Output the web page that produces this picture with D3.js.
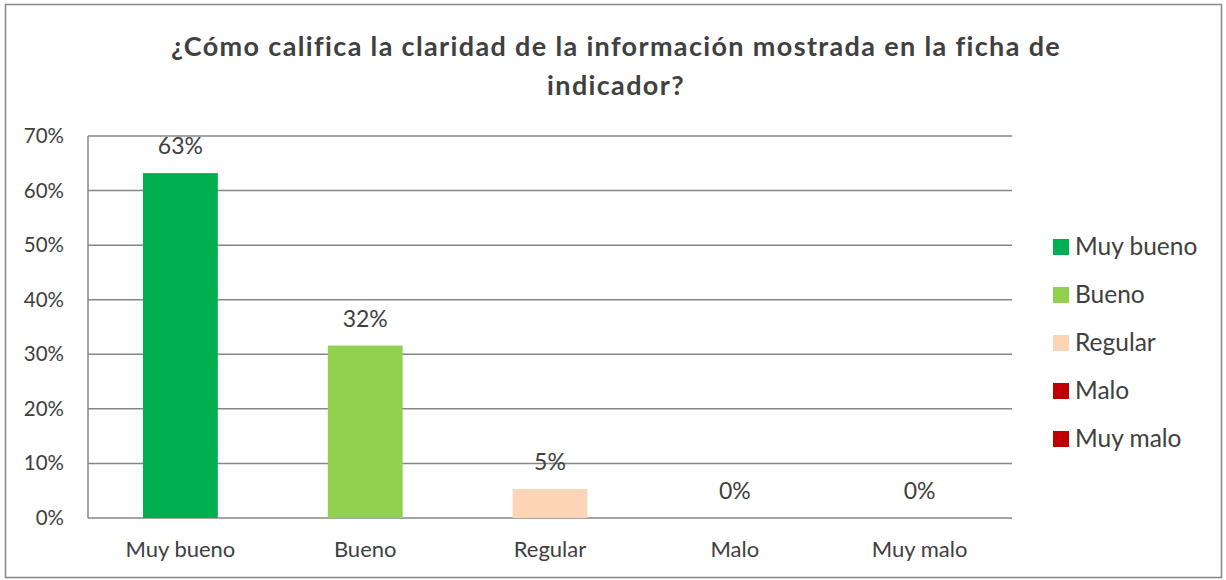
<!DOCTYPE html>
<html>
<head>
<meta charset="utf-8">
<script src="https://cdn.jsdelivr.net/npm/d3@7"></script>
<style>
  body { margin: 0; background: #fff; }
  text { font-family: Lato, "Open Sans", sans-serif; fill: #404040; }
</style>
</head>
<body>
<svg id="chart" width="1226" height="580"></svg>
<script>
const categories = ['Muy bueno', 'Bueno', 'Regular', 'Malo', 'Muy malo']
const values = [0.632, 0.316, 0.053, 0, 0]
const labels = ['63%', '32%', '5%', '0%', '0%']
const colors = ['#00b050', '#92d050', '#fbd5b5', '#c00000', '#c00000']
const yTicks = [0, 0.1, 0.2, 0.3, 0.4, 0.5, 0.6, 0.7]
const title = ['¿Cómo califica la claridad de la información mostrada en la ficha de', 'indicador?']

const svg = d3.select('#chart')
const margin = { left: 88, top: 136, right: 1012, bottom: 518 }

// frame
svg.append('rect')
  .attr('x', 5.5).attr('y', 4.5)
  .attr('width', 1216).attr('height', 573)
  .attr('fill', 'none').attr('stroke', '#868686').attr('stroke-width', 1.5)

svg.selectAll('.title')
  .data(title)
  .enter()
  .append('text')
  .attr('x', 616)
  .attr('y', (d, i) => 56 + i * 39)
  .attr('text-anchor', 'middle')
  .attr('font-size', 27)
  .attr('letter-spacing', 1.35)
  .attr('font-weight', 'bold')
  .text(d => d)

const x = d3.scaleBand()
  .domain(categories)
  .range([margin.left, margin.right])
  .paddingInner(0.595)
  .paddingOuter(0.2975)

const y = d3.scaleLinear()
  .domain([0, 0.7])
  .range([margin.bottom, margin.top])

// gridlines
svg.append('g').selectAll('line')
  .data(yTicks)
  .enter()
  .append('line')
  .attr('x1', margin.left).attr('x2', margin.right)
  .attr('y1', d => y(d)).attr('y2', d => y(d))
  .attr('stroke', '#868686').attr('stroke-width', 1.5)

svg.append('line')
  .attr('x1', margin.left).attr('x2', margin.left)
  .attr('y1', margin.top).attr('y2', margin.bottom)
  .attr('stroke', '#868686').attr('stroke-width', 1.5)

// y tick labels
svg.append('g').selectAll('text')
  .data(yTicks)
  .enter()
  .append('text')
  .attr('x', 64)
  .attr('y', d => y(d) + 7)
  .attr('text-anchor', 'end')
  .attr('font-size', 20.5)
  .text(d => d3.format('.0%')(d))

// bars
svg.append('g').selectAll('rect')
  .data(values)
  .enter()
  .append('rect')
  .attr('x', (d, i) => x(categories[i]))
  .attr('y', d => y(d))
  .attr('width', x.bandwidth())
  .attr('height', d => y(0) - y(d))
  .attr('fill', (d, i) => colors[i])

// data labels
svg.append('g').selectAll('text')
  .data(values)
  .enter()
  .append('text')
  .attr('x', (d, i) => x(categories[i]) + x.bandwidth() / 2)
  .attr('y', d => y(d) - 19)
  .attr('text-anchor', 'middle')
  .attr('font-size', 23)
  .text((d, i) => labels[i])

// category labels
svg.append('g').selectAll('text')
  .data(categories)
  .enter()
  .append('text')
  .attr('x', d => x(d) + x.bandwidth() / 2)
  .attr('y', 557)
  .attr('text-anchor', 'middle')
  .attr('font-size', 22)
  .text(d => d)

// legend
const legendG = svg.append('g').selectAll('g')
  .data(categories)
  .enter()
  .append('g')
  .attr('transform', (d, i) => `translate(1053,${247 + i * 48})`)

legendG.append('rect')
  .attr('x', 0).attr('y', -8)
  .attr('width', 16).attr('height', 16)
  .attr('fill', (d, i) => colors[i])

legendG.append('text')
  .attr('x', 22)
  .attr('y', 8)
  .attr('font-size', 24.5)
  .text(d => d)
</script>
</body>
</html>
